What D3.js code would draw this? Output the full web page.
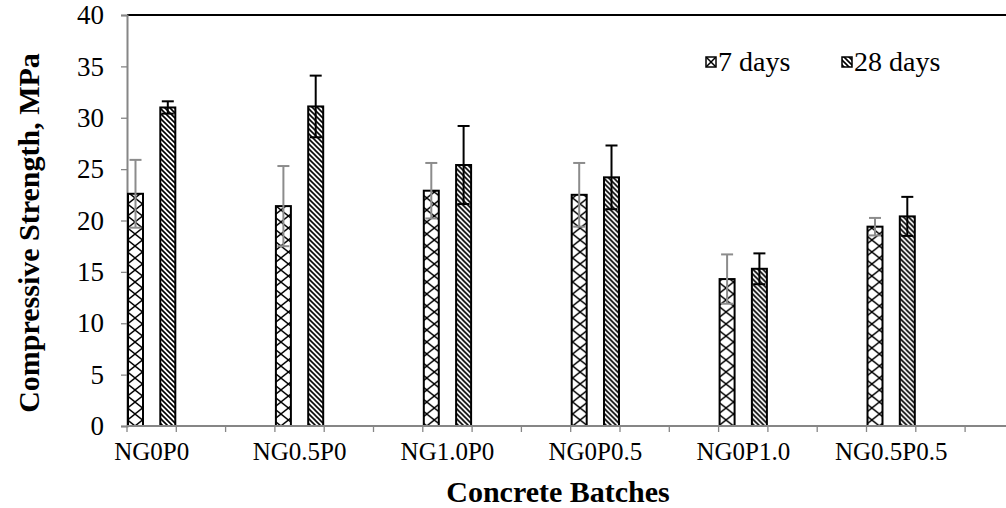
<!DOCTYPE html>
<html>
<head>
<meta charset="utf-8">
<script src="https://cdn.jsdelivr.net/npm/d3@7"></script>
<style>
  html, body { margin: 0; padding: 0; background: #fff; }
  svg { display: block; font-family: "Liberation Serif", "Times New Roman", serif; }
</style>
</head>
<body>
<svg id="chart" width="1006" height="508"></svg>
<script>
// Compressive strength of concrete batches at 7 and 28 days (MPa)
const batches = ["NG0P0", "NG0.5P0", "NG1.0P0", "NG0P0.5", "NG0P1.0", "NG0.5P0.5"];
const seriesNames = ["7 days", "28 days"];
const strength7 = [22.6, 21.4, 22.9, 22.5, 14.3, 19.4];
const strength28 = [31.0, 31.1, 25.4, 24.2, 15.3, 20.4];
const err7 = [3.3, 3.9, 2.7, 3.1, 2.4, 0.85];
const err28 = [0.6, 3.0, 3.8, 3.1, 1.5, 1.9];
const yTicks = [0, 5, 10, 15, 20, 25, 30, 35, 40];

// Each batch occupies three category slots; the bars sit in the first one
const slots = [];
batches.forEach((b, i) => { slots.push(b, "gap-a-" + i, "gap-b-" + i); });

const svg = d3.select("#chart");
const plotLeft = 127, plotTop = 15, plotBottom = 426;
const step = 49.3;
const plotRight = plotLeft + slots.length * step;
const serif = "Liberation Serif";

const x = d3.scaleBand().domain(slots).range([plotLeft, plotRight]).padding(0);
const xs = d3.scaleBand().domain(seriesNames).range([0, x.bandwidth()]).paddingInner(0.474).paddingOuter(0);
const y = d3.scaleLinear().domain([0, 40]).range([plotBottom, plotTop]);

const rows = batches.map((b, i) => ({
  batch: b,
  values: [
    { key: "7 days", v: strength7[i], e: err7[i], id: "cross" + i },
    { key: "28 days", v: strength28[i], e: err28[i], id: "diag" }
  ]
}));

const barX = (batch, key) => x(batch) + xs(key) + 1;
const barW = xs.bandwidth() - 2;

// Fill patterns: a diamond lattice fitted to each 7-day bar, stripes for 28 days
const defs = svg.append("defs");
const crossH = 12;
const crossPats = defs.selectAll("pattern.cross").data(rows).join("pattern")
  .attr("class", "cross").attr("id", (d, i) => "cross" + i)
  .attr("patternUnits", "userSpaceOnUse")
  .attr("x", d => barX(d.batch, "7 days")).attr("y", plotBottom)
  .attr("width", barW).attr("height", crossH);
crossPats.append("rect").attr("width", barW).attr("height", crossH).attr("fill", "#fff");
crossPats.append("path").attr("d", `M0,0L${barW},${crossH}M${barW},0L0,${crossH}`)
  .attr("stroke", "#000").attr("stroke-width", 1.4);

const legendCross = defs.append("pattern").attr("id", "crossLegend")
  .attr("patternUnits", "objectBoundingBox").attr("patternContentUnits", "objectBoundingBox")
  .attr("width", 1).attr("height", 1);
legendCross.append("rect").attr("width", 1).attr("height", 1).attr("fill", "#fff");
legendCross.append("path").attr("d", "M0,0L1,1M1,0L0,1").attr("stroke", "#000").attr("stroke-width", 0.15);

const pDiag = defs.append("pattern").attr("id", "diag")
  .attr("patternUnits", "userSpaceOnUse").attr("width", 5).attr("height", 5);
pDiag.append("rect").attr("width", 5).attr("height", 5).attr("fill", "#fff");
pDiag.append("path").attr("d", "M-1,-1L6,6M-1,4L1,6M4,-1L6,1").attr("stroke", "#000").attr("stroke-width", 1.6);

const legendFill = { "7 days": "url(#crossLegend)", "28 days": "url(#diag)" };
const errColor = { "7 days": "#8c8c8c", "28 days": "#000" };

// Top frame line
svg.append("line").attr("x1", plotLeft).attr("x2", 1006).attr("y1", plotTop).attr("y2", plotTop)
  .attr("stroke", "#000").attr("stroke-width", 2);

// Y axis
const yAxis = svg.append("g").attr("transform", `translate(${plotLeft},0)`)
  .call(d3.axisLeft(y).tickValues(yTicks).tickSize(6).tickPadding(17));
yAxis.select(".domain").attr("stroke", "#868686").attr("stroke-width", 2);
yAxis.selectAll(".tick line").attr("stroke", "#868686").attr("stroke-width", 1.3);
yAxis.selectAll(".tick text").attr("font-size", 27).attr("fill", "#000")
  .attr("font-family", serif);

// X axis: labels under the first slot of each batch, tick marks at slot edges
const xAxis = svg.append("g").attr("transform", `translate(0,${plotBottom})`)
  .call(d3.axisBottom(x).tickSize(0).tickPadding(16)
    .tickFormat(d => batches.includes(d) ? d : ""));
xAxis.select(".domain").remove();
xAxis.selectAll(".tick text").attr("font-size", 25).attr("fill", "#000")
  .attr("font-family", serif);

const edges = slots.map(s => x(s)).concat([plotRight]);
svg.append("g").selectAll("line").data(edges).join("line")
  .attr("x1", d => d).attr("x2", d => d).attr("y1", plotBottom).attr("y2", plotBottom + 6)
  .attr("stroke", "#868686").attr("stroke-width", 1.3);

const groups = svg.append("g").selectAll("g").data(rows).join("g")
  .attr("transform", d => `translate(${x(d.batch)},0)`);

groups.selectAll("rect").data(d => d.values).join("rect")
  .attr("x", d => xs(d.key) + 1)
  .attr("width", barW)
  .attr("y", d => y(d.v))
  .attr("height", d => y(0) - y(d.v))
  .attr("fill", d => `url(#${d.id})`)
  .attr("stroke", "#000").attr("stroke-width", 2);

// Bottom axis line drawn over bar bases
svg.append("line").attr("x1", plotLeft).attr("x2", 1006).attr("y1", plotBottom).attr("y2", plotBottom)
  .attr("stroke", "#868686").attr("stroke-width", 2);

// Error bars
const eb = groups.selectAll("g.err").data(d => d.values).join("g").attr("class", "err")
  .attr("stroke", d => errColor[d.key]).attr("stroke-width", 2);
const cx = d => xs(d.key) + xs.bandwidth() / 2;
eb.append("line")
  .attr("x1", cx).attr("x2", cx)
  .attr("y1", d => y(d.v - d.e)).attr("y2", d => y(d.v + d.e));
eb.append("line")
  .attr("x1", d => cx(d) - 6).attr("x2", d => cx(d) + 6)
  .attr("y1", d => y(d.v + d.e)).attr("y2", d => y(d.v + d.e));
eb.append("line")
  .attr("x1", d => cx(d) - 6).attr("x2", d => cx(d) + 6)
  .attr("y1", d => y(d.v - d.e)).attr("y2", d => y(d.v - d.e));

// Legend
const legendX = [706, 842];
const legend = svg.append("g").selectAll("g").data(seriesNames).join("g")
  .attr("transform", (d, i) => `translate(${legendX[i]},0)`);
legend.append("rect").attr("y", 57).attr("width", 10).attr("height", 10)
  .attr("fill", d => legendFill[d]).attr("stroke", "#000").attr("stroke-width", 1.5);
legend.append("text").attr("x", 12).attr("y", 71).attr("font-size", 28).text(d => d);

// Axis titles
svg.append("text").attr("x", 558).attr("y", 502).attr("text-anchor", "middle")
  .attr("font-size", 30).attr("font-weight", "bold").text("Concrete Batches");
svg.append("text").attr("transform", `translate(39,233) rotate(-90)`).attr("text-anchor", "middle")
  .attr("font-size", 30).attr("font-weight", "bold").text("Compressive Strength, MPa");
</script>
</body>
</html>
